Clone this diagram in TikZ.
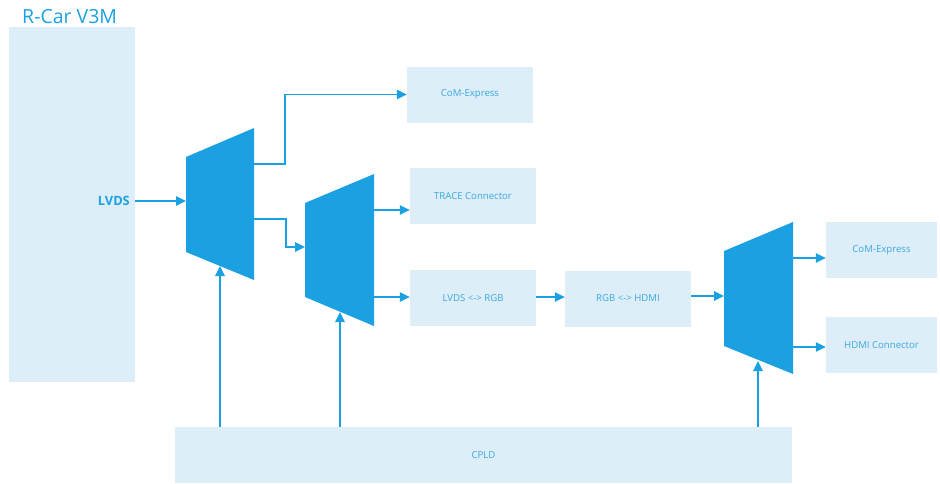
\documentclass[tikz,border=0pt]{standalone}
\usepackage{fontspec}
\setmainfont{Open Sans}
\usepackage{tikz}
\usetikzlibrary{arrows.meta}

\definecolor{muxblue}{HTML}{1BA1E2}
\definecolor{boxfill}{HTML}{DDEEF8}
\definecolor{labelblue}{HTML}{3AA8E0}

\tikzset{
  blk/.style={fill=boxfill, text=labelblue, inner sep=0pt, font=\fontsize{9.6}{11}\selectfont, minimum width=126pt, minimum height=56pt},
  sig/.style={draw=muxblue, line width=1.3pt, -{Triangle[length=10pt,width=9.5pt]}},
  mux/.style={fill=muxblue},
}

\begin{document}
\begin{tikzpicture}[x=1pt, y=-1pt]
	\useasboundingbox (0,0) rectangle (940,483);
	\node[fill=boxfill, inner sep=0pt, minimum width=126pt, minimum height=355pt] (rcar) at (72,204.5) {};
	\node[anchor=west, inner sep=0pt, text=muxblue, font=\fontsize{19.5}{22}\selectfont] (rcartitle) at (22,17) {R-Car V3M};
	\node[anchor=east, inner sep=0pt, text=muxblue, font=\bfseries\fontsize{12.8}{14}\selectfont] (lvds) at (130,201) {LVDS};
	% boxes
	\node[blk] (come1) at (470,94.5) {CoM-Express};
	\node[blk] (trace) at (473,196) {TRACE Connector};
	\node[blk] (l2rgb) at (473,298) {LVDS <-> RGB};
	\node[blk] (rgb2h) at (628,298.5) {RGB <-> HDMI};
	\node[blk, minimum width=111pt] (come2) at (881.5,250) {CoM-Express};
	\node[blk, minimum width=111pt] (hdmi) at (881.5,345) {HDMI Connector};
	\node[blk, minimum width=617pt] (cpld) at (483.5,455) {CPLD};
	% muxes
	\fill[mux] (186,157) -- (254,128) -- (254,280) -- (186,252) -- cycle;
	\coordinate (m1in) at (186,201);
	\coordinate (m1oa) at (254,164);
	\coordinate (m1ob) at (254,219);
	\coordinate (m1sel) at (220,266);
	\fill[mux] (305,203) -- (374,174) -- (374,326) -- (305,297) -- cycle;
	\coordinate (m2in) at (305,247);
	\coordinate (m2oa) at (374,210);
	\coordinate (m2ob) at (374,297);
	\coordinate (m2sel) at (340,312);
	\fill[mux] (724,251) -- (793,222) -- (793,374) -- (724,346) -- cycle;
	\coordinate (m3in) at (724,296);
	\coordinate (m3oa) at (793,258);
	\coordinate (m3ob) at (793,347);
	\coordinate (m3sel) at (758,361);
	% links
	\draw[sig] (rcar.east |- m1in) -- (m1in);
	\draw[sig] (m1oa) -- ++(31,0) |- (come1.west);
	\draw[sig] (m1ob) -- ++(32,0) |- (m2in);
	\draw[sig] (m2oa) -- (m2oa -| trace.west);
	\draw[sig] (m2ob) -- (m2ob -| l2rgb.west);
	\draw[sig] (l2rgb.east |- m2ob) -- (rgb2h.west |- m2ob);
	\draw[sig] (rgb2h.east |- m3in) -- (m3in);
	\draw[sig] (m3oa) -- (m3oa -| come2.west);
	\draw[sig] (m3ob) -- (m3ob -| hdmi.west);
	\draw[sig] (cpld.north -| m1sel) -- (m1sel);
	\draw[sig] (cpld.north -| m2sel) -- (m2sel);
	\draw[sig] (cpld.north -| m3sel) -- (m3sel);
\end{tikzpicture}
\end{document}
